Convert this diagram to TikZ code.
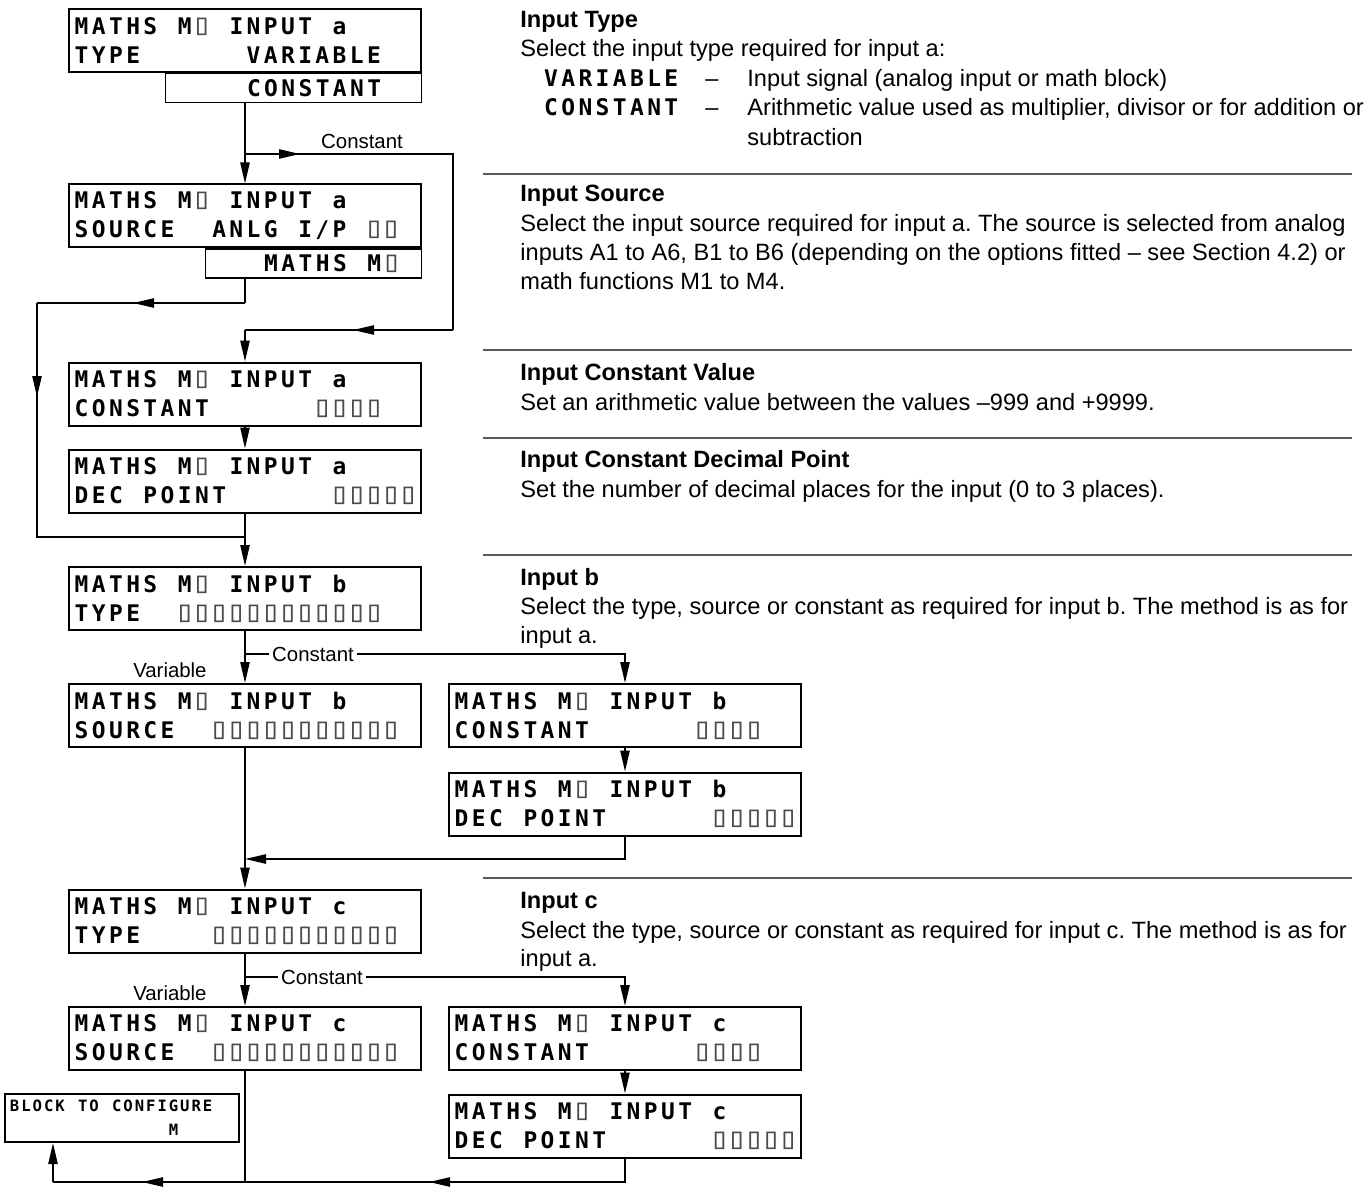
\documentclass[tikz,border=0pt]{standalone}
\usepackage{fontspec}
\setmainfont{Liberation Sans}
\newfontfamily\lcdfont{DejaVu Sans Mono}
\usetikzlibrary{positioning,arrows.meta,calc,decorations.markings}

% one fixed cell per character, ~ is a blank cell
\ExplSyntaxOn
\NewDocumentCommand \lcd { O{8.6pt} m }
  { \tl_map_inline:nn {#2} { \makebox[#1][c]{##1} } }
\ExplSyntaxOff
% empty display cell
\newcommand\bx{{\mdseries\color{black!70}\resizebox{10pt}{8.2pt}{▯}}}

\begin{document}
\frenchspacing
\begin{tikzpicture}[
  x=0.5pt, y=-0.5pt,
  >={Triangle[length=10.5pt, width=4.6pt]},
  wire/.style={line width=0.9pt},
  flow/.style={wire, ->},
  tips/.style={postaction=decorate, decoration={markings, mark=at position #1 with {\arrow{>}}}},
  lcd/.style={draw, line width=1pt, minimum width=176pt, minimum height=31.5pt,
    inner xsep=2pt, inner ysep=0pt, text width=172pt, align=left,
    font={\lcdfont\bfseries\fontsize{11.45}{14.5}\selectfont}},
  lcdsub/.style={draw, line width=0.7pt, minimum height=14.5pt, inner xsep=2pt,
    inner ysep=0pt, align=right, font={\lcdfont\bfseries\fontsize{11.45}{14.5}\selectfont}},
  word/.style={anchor=base west, inner sep=0pt, font={\lcdfont\bfseries\fontsize{11.45}{14.5}\selectfont}},
  body/.style={anchor=base west, inner sep=0pt, font=\fontsize{11.8}{14}\selectfont},
  head/.style={body, font=\bfseries\fontsize{11.8}{14}\selectfont},
  tag/.style={inner sep=1.5pt, font=\fontsize{10.2}{12}\selectfont},
  rule/.style={line width=1.1pt, black!65}
]
\useasboundingbox (0,0) rectangle (1365,1198);

% input a
\node[lcd] (A1) at (245,40.5) {\lcd{MATHS~M\bx~INPUT~a}\\\lcd{TYPE~~~~~~VARIABLE}};
\node[lcdsub, text width=124pt, anchor=north east] (A1s) at (A1.south east) {\lcd{CONSTANT~~}};
\node[lcd] (A2) at (245,216) {\lcd{MATHS~M\bx~INPUT~a}\\\lcd{SOURCE~~ANLG~I/P~\bx\bx}};
\node[lcdsub, text width=104pt, anchor=north east] (A2s) at (A2.south east) {\lcd{MATHS~M\bx~}};
\node[lcd] (A3) at (245,394) {\lcd{MATHS~M\bx~INPUT~a}\\\lcd{CONSTANT~~~~~~\bx\bx\bx\bx}};
\node[lcd] (A4) at (245,481) {\lcd{MATHS~M\bx~INPUT~a}\\\lcd{DEC~POINT~~~~~~\bx\bx\bx\bx\bx}};

% input b
\node[lcd] (B1) at (245,598.5) {\lcd{MATHS~M\bx~INPUT~b}\\\lcd{TYPE~~\bx\bx\bx\bx\bx\bx\bx\bx\bx\bx\bx\bx}};
\node[lcd] (B2) at (245,715.5) {\lcd{MATHS~M\bx~INPUT~b}\\\lcd{SOURCE~~\bx\bx\bx\bx\bx\bx\bx\bx\bx\bx\bx}};
\node[lcd] (B3) at (625,715.5) {\lcd{MATHS~M\bx~INPUT~b}\\\lcd{CONSTANT~~~~~~\bx\bx\bx\bx}};
\node[lcd] (B4) at (625,804) {\lcd{MATHS~M\bx~INPUT~b}\\\lcd{DEC~POINT~~~~~~\bx\bx\bx\bx\bx}};

% input c
\node[lcd] (C1) at (245,921) {\lcd{MATHS~M\bx~INPUT~c}\\\lcd{TYPE~~~~\bx\bx\bx\bx\bx\bx\bx\bx\bx\bx\bx}};
\node[lcd] (C2) at (245,1038.5) {\lcd{MATHS~M\bx~INPUT~c}\\\lcd{SOURCE~~\bx\bx\bx\bx\bx\bx\bx\bx\bx\bx\bx}};
\node[lcd] (C3) at (625,1038.5) {\lcd{MATHS~M\bx~INPUT~c}\\\lcd{CONSTANT~~~~~~\bx\bx\bx\bx}};
\node[lcd] (C4) at (625,1126) {\lcd{MATHS~M\bx~INPUT~c}\\\lcd{DEC~POINT~~~~~~\bx\bx\bx\bx\bx}};

\node[lcd, minimum width=117pt, minimum height=24pt, text width=113pt,
  font={\lcdfont\bfseries\fontsize{7.8}{12}\selectfont}] (blk) at (122,1118)
  {\lcd[5.675pt]{BLOCK~TO~CONFIGURE}\\\lcd[5.675pt]{~~~~~~~~~~~~~~M}};

% corners of the connectors
\coordinate (k1) at (245,154);  \coordinate (k2) at (453,154);
\coordinate (k3) at (453,330);  \coordinate (k4) at (245,330);
\coordinate (k5) at (245,303);  \coordinate (k6) at (37,303);
\coordinate (k7) at (37,537);   \coordinate (k8) at (245,537);
\coordinate (k9) at (245,654);  \coordinate (k12) at (245,859);
\coordinate (k13) at (245,977); \coordinate (k15) at (245,1182);
\coordinate (k16) at (53,1182);

% a: type -> source / constant
\draw[flow] (A1s.south -| A1.south) -- (A2.north);
\draw[wire, tips=27.5pt] (k1) -- (k2) -- (k3);
\draw[wire, tips=50pt] (k3) -- (k4);
\draw[flow] (k4) -- (A3.north);
\node[tag, anchor=base] (cstA) at (362,149) {Constant};

% a: source -> input b
\draw[wire] (A2s.south -| A2.south) -- (k5);
\draw[wire, tips=56pt] (k5) -- (k6);
\draw[wire, tips=47pt] (k6) -- (k7) -- (k8);
\draw[flow] (A3.south) -- (A4.north);
\draw[flow] (A4.south) -- (B1.north);

% b
\draw[flow] (B1.south) -- (B2.north);
\draw[flow] (k9) -| (B3.north);
\node[tag, fill=white] (cstB) at (313,654) {Constant};
\node[tag, anchor=base east] (varB) at ([shift={(-35,-6)}]B2.north) {Variable};
\draw[flow] (B3.south) -- (B4.north);
\draw[flow] (B4.south) |- (k12);
\draw[flow] (B2.south) -- (C1.north);

% c
\draw[flow] (C1.south) -- (C2.north);
\draw[flow] (k13) -| (C3.north);
\node[tag, fill=white] (cstC) at (322,977) {Constant};
\node[tag, anchor=base east] (varC) at ([shift={(-35,-6)}]C2.north) {Variable};
\draw[flow] (C3.south) -- (C4.north);
\draw[wire] (C2.south) -- (k15);
\draw[wire, tips=109.75pt] (C4.south) |- (k15);
\draw[wire, tips=51.5pt] (k15) -- (k16);
\draw[flow] (k16) -- (k16 |- blk.south);

% descriptions
\node[head] (hType) at (520,28) {Input Type};
\node[body] (tyL1) at (520,57) {Select the input type required for input a:};
\node[word] (tyV) at (542,87) {\lcd{VARIABLE}};
\node[body] (tyVd) at (705,87) {–};
\node[body] (tyVt) at (747,87) {Input signal (analog input or math block)};
\node[word] (tyC) at (542,116) {\lcd{CONSTANT}};
\node[body] (tyCd) at (705,116) {–};
\node[body] (tyCt) at (747,116) {Arithmetic value used as multiplier, divisor or for addition or};
\node[body] (tyCt2) at (747,146) {subtraction};
\draw[rule] (483,174) -- (1352,174);

\node[head] (hSrc) at (520,202) {Input Source};
\node[body] (srcL1) at (520,232) {Select the input source required for input a. The source is selected from analog};
\node[body] (srcL2) at (520,261) {inputs A1 to A6, B1 to B6 (depending on the options fitted – see Section 4.2) or};
\node[body] (srcL3) at (520,290) {math functions M1 to M4.};
\draw[rule] (483,350) -- (1352,350);

\node[head] (hCon) at (520,380) {Input Constant Value};
\node[body] (conL1) at (520,410) {Set an arithmetic value between the values –999 and +9999.};
\draw[rule] (483,438) -- (1352,438);

\node[head] (hDec) at (520,467) {Input Constant Decimal Point};
\node[body] (decL1) at (520,497) {Set the number of decimal places for the input (0 to 3 places).};
\draw[rule] (483,555) -- (1352,555);

\node[head] (hInb) at (520,585) {Input b};
\node[body] (inbL1) at (520,614) {Select the type, source or constant as required for input b. The method is as for};
\node[body] (inbL2) at (520,643) {input a.};
\draw[rule] (483,878) -- (1352,878);

\node[head] (hInc) at (520,908) {Input c};
\node[body] (incL1) at (520,938) {Select the type, source or constant as required for input c. The method is as for};
\node[body] (incL2) at (520,966) {input a.};

\end{tikzpicture}
\end{document}
